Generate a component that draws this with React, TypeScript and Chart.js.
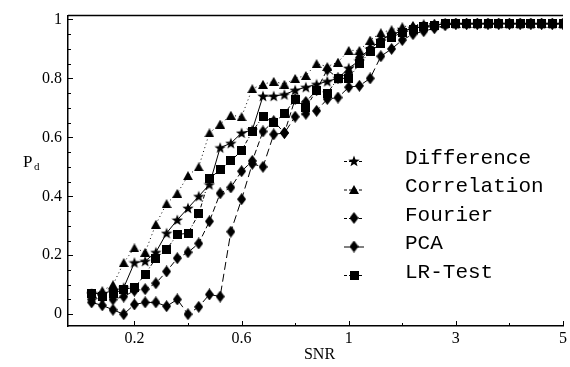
import React, { useEffect, useRef } from "react";
import { Chart, registerables } from "chart.js";

Chart.register(...registerables);

// SNR values (x)
const SNR = [
  0.04, 0.08, 0.12, 0.16, 0.2, 0.24, 0.28, 0.32, 0.36, 0.4,
  0.44, 0.48, 0.52, 0.56, 0.6, 0.64, 0.68, 0.72, 0.76, 0.8,
  0.84, 0.88, 0.92, 0.96, 1.0,
  1.2, 1.4, 1.6, 1.8, 2.0, 2.2, 2.4, 2.6, 2.8, 3.0,
  3.2, 3.4, 3.6, 3.8, 4.0, 4.2, 4.4, 4.6, 4.8, 5.0,
];

const DIFFERENCE = [
  0.07, 0.07, 0.08, 0.09, 0.175, 0.18, 0.21, 0.275, 0.32, 0.36,
  0.4, 0.44, 0.565, 0.58, 0.615, 0.625, 0.74, 0.74, 0.745, 0.76,
  0.77, 0.78, 0.79, 0.8, 0.835,
  0.86, 0.9, 0.93, 0.95, 0.96, 0.97, 0.975, 0.98, 0.985, 0.985,
  0.985, 0.985, 0.985, 0.985, 0.985, 0.985, 0.985, 0.985, 0.985, 0.985,
];

const CORRELATION = [
  0.07, 0.08, 0.1, 0.175, 0.225, 0.21, 0.305, 0.375, 0.41, 0.47,
  0.5, 0.615, 0.645, 0.675, 0.67, 0.765, 0.78, 0.79, 0.78, 0.8,
  0.81, 0.85, 0.84, 0.855, 0.895,
  0.895, 0.93, 0.955, 0.965, 0.975, 0.98, 0.985, 0.985, 0.985, 0.985,
  0.985, 0.985, 0.985, 0.985, 0.985, 0.985, 0.985, 0.985, 0.985, 0.985,
];

const FOURIER = [
  0.05, 0.055, 0.05, 0.06, 0.08, 0.085, 0.105, 0.145, 0.19, 0.21,
  0.24, 0.315, 0.41, 0.43, 0.485, 0.52, 0.62, 0.655, 0.615, 0.73,
  0.72, 0.76, 0.83, 0.8, 0.82,
  0.87, 0.9, 0.93, 0.95, 0.96, 0.97, 0.975, 0.98, 0.985, 0.985,
  0.985, 0.985, 0.985, 0.985, 0.985, 0.985, 0.985, 0.985, 0.985, 0.985,
];

const PCA = [
  0.04, 0.03, 0.015, 0.0, 0.033, 0.04, 0.04, 0.027, 0.05, 0.0,
  0.025, 0.067, 0.06, 0.28, 0.39, 0.51, 0.5, 0.61, 0.615, 0.67,
  0.68, 0.69, 0.73, 0.735, 0.77,
  0.775, 0.8, 0.875, 0.9, 0.93, 0.95, 0.96, 0.97, 0.98, 0.985,
  0.985, 0.985, 0.985, 0.985, 0.985, 0.985, 0.985, 0.985, 0.985, 0.985,
];

const LR_TEST = [
  0.07, 0.06, 0.07, 0.085, 0.09, 0.135, 0.19, 0.22, 0.27, 0.275,
  0.34, 0.46, 0.49, 0.52, 0.555, 0.62, 0.67, 0.65, 0.68, 0.73,
  0.7, 0.76, 0.75, 0.8, 0.8,
  0.85, 0.89, 0.92, 0.94, 0.955, 0.965, 0.975, 0.98, 0.985, 0.985,
  0.985, 0.985, 0.985, 0.985, 0.985, 0.985, 0.985, 0.985, 0.985, 0.985,
];

const SERIES_NAMES = ["Difference", "Correlation", "Fourier", "PCA", "LR-Test"];
const X_TICKS = [0.2, 0.6, 1, 3, 5];
const X_MINOR = [0.4, 0.8, 2, 4];
const Y_TICKS = [0, 0.2, 0.4, 0.6, 0.8, 1];

// piecewise axis: 0.04 steps up to 1, then 0.2 steps
function snrPos(s: number) {
  return s <= 1 ? s / 0.04 : 25 + (s - 1) / 0.2;
}

function makeMarker(kind: string): HTMLCanvasElement {
  const c = document.createElement("canvas");
  const dims: Record<string, [number, number]> = {
    star: [12, 12],
    triangle: [10, 9],
    diamond: [9, 12],
    square: [9, 9],
  };
  const [w, h] = dims[kind];
  c.width = w;
  c.height = h;
  const ctx = c.getContext("2d")!;
  ctx.fillStyle = "#000";
  ctx.beginPath();
  if (kind === "star") {
    const cx = w / 2, cy = h / 2 + 0.5, R = 6, r = 2.5;
    for (let i = 0; i < 10; i++) {
      const a = -Math.PI / 2 + (i * Math.PI) / 5;
      const rad = i % 2 === 0 ? R : r;
      const px = cx + rad * Math.cos(a);
      const py = cy + rad * Math.sin(a);
      if (i === 0) ctx.moveTo(px, py);
      else ctx.lineTo(px, py);
    }
  } else if (kind === "triangle") {
    ctx.moveTo(w / 2, 0);
    ctx.lineTo(w, h);
    ctx.lineTo(0, h);
  } else if (kind === "diamond") {
    ctx.moveTo(w / 2, 0);
    ctx.lineTo(w, h / 2);
    ctx.lineTo(w / 2, h);
    ctx.lineTo(0, h / 2);
  } else {
    ctx.rect(0, 0, w, h);
  }
  ctx.closePath();
  ctx.fill();
  return c;
}

export default function App() {
  const ref = useRef<HTMLCanvasElement | null>(null);

  useEffect(() => {
    if (!ref.current) return;
    const markers = {
      star: makeMarker("star"),
      triangle: makeMarker("triangle"),
      diamond: makeMarker("diamond"),
      square: makeMarker("square"),
    };
    const seriesValues = [DIFFERENCE, CORRELATION, FOURIER, PCA, LR_TEST];
    const seriesMarkers = [markers.star, markers.triangle, markers.diamond, markers.diamond, markers.square];
    const seriesDash = [[], [1, 3], [6, 3], [8, 4], [4, 2, 1, 2]];

    const datasets = seriesValues.map((vals, k) => ({
      label: SERIES_NAMES[k],
      data: SNR.map((s, i) => ({ x: snrPos(s), y: vals[i] })),
      borderColor: "#000",
      backgroundColor: "#000",
      borderWidth: 1,
      borderDash: seriesDash[k],
      pointStyle: seriesMarkers[k],
      pointRadius: 5,
      fill: false,
      tension: 0,
    }));

    const decor = {
      id: "decor",
      afterDraw(chart: any) {
        const ctx = chart.ctx;
        const area = chart.chartArea;
        const xs = chart.scales.x;
        const ys = chart.scales.y;
        ctx.save();
        ctx.strokeStyle = "#000";
        ctx.fillStyle = "#000";
        // top frame line
        ctx.lineWidth = 1.5;
        ctx.beginPath();
        ctx.moveTo(area.left, area.top);
        ctx.lineTo(area.right, area.top);
        ctx.stroke();
        // inward ticks
        ctx.lineWidth = 1;
        ctx.beginPath();
        for (let v = 0; v <= 1.0001; v += 0.05) {
          const y = Math.round(ys.getPixelForValue(v)) + 0.5;
          const major = Math.abs(v / 0.2 - Math.round(v / 0.2)) < 1e-6;
          ctx.moveTo(area.left, y);
          ctx.lineTo(area.left + (major ? 5 : 3), y);
        }
        X_TICKS.forEach((t) => {
          const x = Math.round(xs.getPixelForValue(snrPos(t))) + 0.5;
          ctx.moveTo(x, area.bottom);
          ctx.lineTo(x, area.bottom - 5);
        });
        X_MINOR.forEach((t) => {
          const x = Math.round(xs.getPixelForValue(snrPos(t))) + 0.5;
          ctx.moveTo(x, area.bottom);
          ctx.lineTo(x, area.bottom - 3);
        });
        ctx.stroke();

        // axis titles
        ctx.font = '17px "Liberation Serif", serif';
        ctx.textBaseline = "middle";
        ctx.textAlign = "left";
        ctx.fillText("P", 23, 163);
        ctx.font = '11px "Liberation Serif", serif';
        ctx.fillText("d", 34, 167);
        ctx.font = '16px "Liberation Serif", serif';
        ctx.textAlign = "center";
        ctx.fillText("SNR", (area.left + area.right) / 2 + 4, 355);

        // legend
        for (let k = 0; k < SERIES_NAMES.length; k++) {
          const my = 161 + 28.5 * k;
          ctx.lineWidth = 1;
          ctx.setLineDash(k === 3 ? [] : [3, 2]);
          ctx.beginPath();
          ctx.moveTo(344, my + 0.5);
          ctx.lineTo(364, my + 0.5);
          ctx.stroke();
          ctx.setLineDash([]);
          const img = seriesMarkers[k];
          ctx.drawImage(img, 354 - img.width / 2, my - img.height / 2);
          ctx.font = '21px "Liberation Mono", "Courier New", monospace';
          ctx.textAlign = "left";
          ctx.textBaseline = "middle";
          ctx.fillText(SERIES_NAMES[k], 405, my - 3);
        }
        ctx.restore();
      },
    };

    const chart = new Chart(ref.current, {
      type: "line",
      data: { datasets },
      options: {
        animation: false,
        responsive: false,
        devicePixelRatio: 1,
        layout: { padding: { left: 0, right: 5, top: 7, bottom: 0 } },
        plugins: { legend: { display: false }, tooltip: { enabled: false } },
        scales: {
          x: {
            type: "linear",
            min: -1.2,
            max: 45,
            afterBuildTicks: (s: any) => {
              s.ticks = X_TICKS.map((t) => ({ value: snrPos(t) }));
            },
            afterFit: (s: any) => {
              s.height = 41;
            },
            ticks: {
              autoSkip: false,
              maxRotation: 0,
              padding: 3,
              color: "#000",
              font: { family: '"Liberation Serif", serif', size: 16 },
              callback: (value: any) => {
                const t = X_TICKS.find((tt) => Math.abs(snrPos(tt) - value) < 1e-6);
                return t === undefined ? "" : String(t);
              },
            },
            grid: { display: false, drawTicks: false },
            border: { display: true, color: "#000", width: 1.5 },
          },
          y: {
            type: "linear",
            min: -0.04,
            max: 1.013,
            afterBuildTicks: (s: any) => {
              s.ticks = Y_TICKS.map((v) => ({ value: v }));
            },
            afterFit: (s: any) => {
              s.width = 68;
            },
            ticks: {
              padding: 6,
              color: "#000",
              font: { family: '"Liberation Serif", serif', size: 16 },
              callback: (value: any) => String(value),
            },
            grid: { display: false, drawTicks: false },
            border: { display: true, color: "#000", width: 1.5 },
          },
        },
      },
      plugins: [decor],
    } as any);

    return () => chart.destroy();
  }, []);

  return (
    <div style={{ position: "fixed", left: 0, top: 0, width: 570, height: 367, background: "#fff" }}>
      <canvas ref={ref} width={570} height={367} />
    </div>
  );
}
